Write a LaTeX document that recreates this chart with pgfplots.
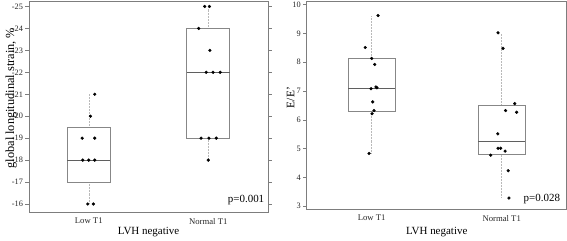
\documentclass[border=0pt]{standalone}
\usepackage{fontspec}
\setmainfont{Liberation Serif}
\usepackage{pgfplots}
\pgfplotsset{compat=1.18}
\usepgfplotslibrary{statistics}
\definecolor{framegray}{RGB}{125,125,125}
\definecolor{boxgray}{RGB}{135,135,135}
\definecolor{medgray}{RGB}{95,95,95}
\definecolor{whiskgray}{RGB}{185,185,185}
\pgfplotsset{
  myaxis/.style={
    scale only axis,
    anchor=south west,
    xmin=0.5, xmax=2.5,
    xtick={1,2}, xticklabels={Low T1, Normal T1},
    axis line style={framegray, line width=0.8pt},
    xtick style={draw=none},
    ytick style={framegray, line width=0.5pt},
    tick align=outside,
    major tick length=3.5bp,
    yticklabel style={font=\fontsize{8.3}{9}\selectfont, text=black!85, xshift=1bp},
    xticklabel style={font=\fontsize{8.7}{9}\selectfont, text=black!85, yshift=1bp},
    label style={font=\fontsize{11}{13}\selectfont},
    xlabel={LVH negative},
    boxplot/draw direction=y,
    boxplot/box extend=0.36,
    boxplot/whisker extend=0,
    boxplot/every whisker/.style={whiskgray, densely dotted, line width=0.5pt},
    boxplot/every box/.style={boxgray, line width=0.9pt},
    boxplot/every median/.style={medgray, line width=0.9pt},
    clip=false,
  },
  dots/.style={only marks, mark=*, mark size=1.4bp, black},
}
\begin{document}
\begin{tikzpicture}
\path[use as bounding box] (0,0) rectangle (567bp,241bp);
% Left panel
\begin{axis}[myaxis,
  at={(29bp,29bp)}, width=239bp, height=211bp,
  y dir=reverse, ymin=-25.25, ymax=-15.635,
  ytick={-25,-24,-23,-22,-21,-20,-19,-18,-17,-16},
  yticklabels={-25,-24,-23,-22,-21,-20,-19,-18,-17,-16},
  ylabel={global longitudinal strain, \%},
  xlabel style={at={(axis description cs:0.5,-0.0948)}, anchor=center},
  ylabel style={at={(axis description cs:-0.075,0.54)}, anchor=center, font=\fontsize{12.4}{14}\selectfont},
]
\addplot[boxplot prepared={draw position=1, lower whisker=-21, lower quartile=-19.5, median=-18, upper quartile=-17, upper whisker=-16}] coordinates {};
\addplot[boxplot prepared={draw position=2, lower whisker=-25, lower quartile=-24, median=-22, upper quartile=-19, upper whisker=-18}] coordinates {};
\addplot[dots] coordinates {
(1.05,-21) (1.014,-20) (0.945,-19) (1.05,-19) (0.95,-18) (1,-18) (1.05,-18) (0.992,-16) (1.039,-16)
(1.97,-25) (2.01,-25) (1.92,-24) (2.014,-23) (1.983,-22) (2.04,-22) (2.1,-22) (1.94,-19) (2.006,-19) (2.067,-19) (2,-18)
};
\node[anchor=east, font=\fontsize{11}{13}\selectfont, inner sep=0pt] at (axis cs:2.47,-16.18) {p=0.001};
\end{axis}
% Right panel
\begin{axis}[myaxis,
  at={(306.7bp,32bp)}, width=260bp, height=208bp,
  ymin=2.9, ymax=10.125,
  ytick={3,4,5,6,7,8,9,10},
  ylabel={E/E'},
  xlabel style={at={(axis description cs:0.5,-0.1106)}, anchor=center},
  ylabel style={at={(axis description cs:-0.0615,0.536)}, anchor=center, font=\fontsize{11.5}{13}\selectfont},
  /pgf/number format/assume math mode=true,
]
\addplot[boxplot prepared={draw position=1, lower whisker=4.82, lower quartile=6.3, median=7.1, upper quartile=8.12, upper whisker=9.6}] coordinates {};
\addplot[boxplot prepared={draw position=2, lower whisker=3.28, lower quartile=4.78, median=5.26, upper quartile=6.48, upper whisker=9.02}] coordinates {};
\addplot[dots] coordinates {
(1.049,9.62) (0.95,8.51) (1.0,8.13) (1.023,7.92) (0.995,7.08) (1.033,7.14) (1.04,7.11) (1.008,6.62) (1.018,6.32) (1.003,6.21) (0.98,4.83)
(1.972,9.02) (2.01,8.48) (2.1,6.56) (2.03,6.32) (2.115,6.26) (1.97,5.51) (1.972,5.01) (1.992,5.01) (2.026,4.91) (1.915,4.77) (2.05,4.23) (2.056,3.28)
};
\node[anchor=east, font=\fontsize{11}{13}\selectfont, inner sep=0pt] at (axis cs:2.45,3.23) {p=0.028};
\end{axis}
\end{tikzpicture}
\end{document}
